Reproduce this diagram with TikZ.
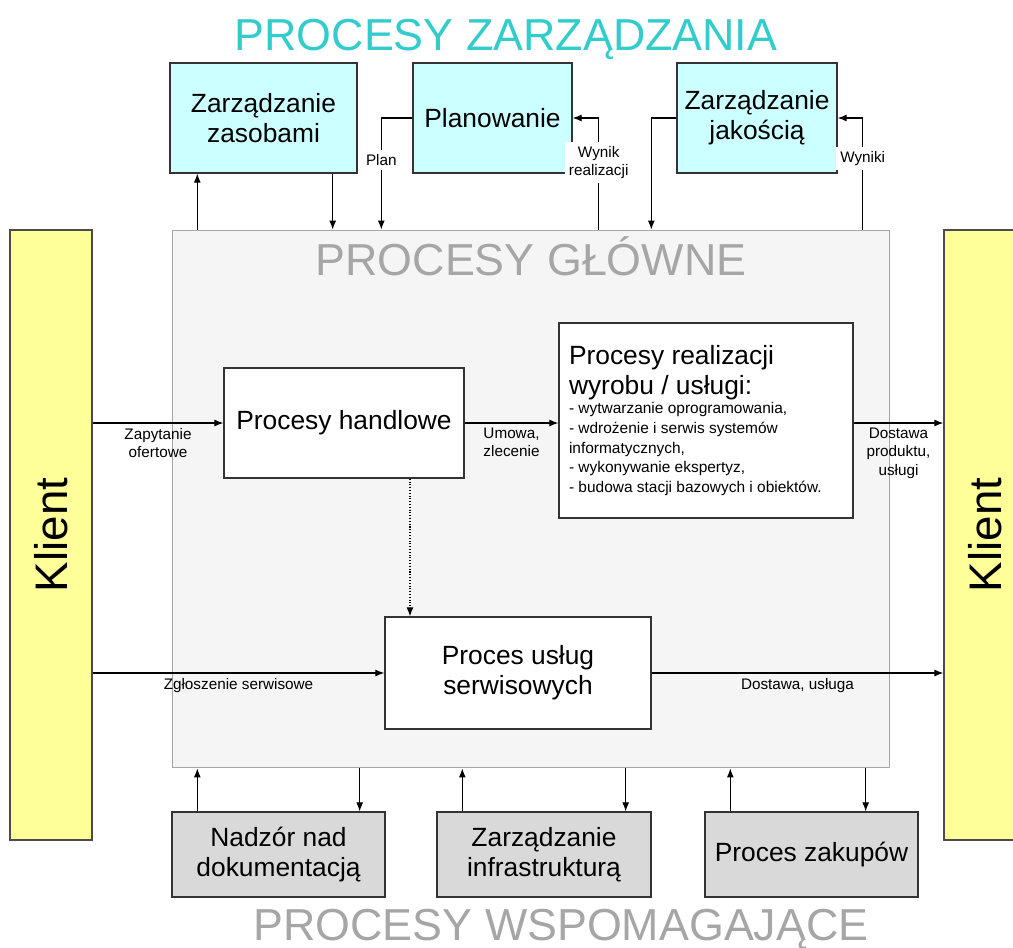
\documentclass[tikz,border=0pt]{standalone}
\usepackage{fontspec}
\setmainfont{Liberation Sans}
\usetikzlibrary{positioning, arrows.meta}

\definecolor{zarzcyan}{RGB}{204,255,255}
\definecolor{zarzteal}{RGB}{51,204,204}
\definecolor{klientyellow}{RGB}{255,255,153}
\definecolor{glownegray}{RGB}{245,245,245}
\definecolor{wspgray}{RGB}{217,217,217}
\definecolor{titlegray}{RGB}{166,166,166}

\begin{document}
\begin{tikzpicture}[x=0.02cm, y=-0.02cm,
        proc/.style={draw=black!80, line width=0.8pt, align=center, inner sep=0pt, font=\fontsize{15}{17}\selectfont},
        zarzbox/.style={proc, fill=zarzcyan, minimum height=2.2cm},
        wspbox/.style={proc, fill=wspgray, minimum height=1.7cm},
        mainbox/.style={proc, fill=white},
        klientbox/.style={draw=black!70, line width=0.8pt, fill=klientyellow, minimum width=1.64cm, minimum height=12.2cm},
        klienttext/.style={rotate=90, font=\fontsize{26}{30}\selectfont},
        arr/.style={-{Latex[length=1.8mm, width=1.4mm]}, line width=0.6pt},
        lbl/.style={font=\fontsize{8.7}{10.5}\selectfont, align=center, inner sep=2.5pt},
        bigtitle/.style={font=\fontsize{25.5}{28}\selectfont, anchor=base}]
    \useasboundingbox (0,0) rectangle (1013,947);

    % procesy glowne
    \node [draw=gray!70, line width=0.6pt, fill=glownegray, minimum width=14.36cm, minimum height=10.76cm] (glowne) at (531,499) {};
    \node [bigtitle, text=titlegray] (glowneT) at (531,275) {PROCESY GŁÓWNE};

    \node [klientbox] (klientL) at (51,535) {};
    \node [klienttext] (klientLT) at (klientL.center) {Klient};
    \node [klientbox] (klientR) at (985,535) {};
    \node [klienttext] (klientRT) at (klientR.center) {Klient};

    % procesy zarzadzania
    \node [bigtitle, text=zarzteal] (zarzT) at (506,50) {PROCESY ZARZĄDZANIA};
    \node [zarzbox, minimum width=3.74cm] (zasoby) at (263.5,118) {Zarządzanie\\zasobami};
    \node [zarzbox, minimum width=3.18cm] (planowanie) at (492.5,118) {Planowanie};
    \node [zarzbox, minimum width=3.2cm] (jakosc) at (757,118) {Zarządzanie\\jakością};

    \node [mainbox, minimum width=4.8cm, minimum height=2.2cm] (handlowe) at (344,423) {Procesy handlowe};
    \node [mainbox, minimum width=5.88cm, minimum height=3.9cm, text width=5.48cm, align=left, inner xsep=0.2cm] (realizacja) at (706,420.5) {%
        {\fontsize{15}{17}\selectfont\spaceskip=0pt\xspaceskip=0pt Procesy realizacji\\wyrobu / usługi:\par}%
        {\fontsize{8.8}{11.2}\selectfont\spaceskip=0pt\xspaceskip=0pt - wytwarzanie oprogramowania,\\- wdrożenie i serwis systemów\\informatycznych,\\- wykonywanie ekspertyz,\\- budowa stacji bazowych i obiektów.\par}};
    \node [mainbox, minimum width=5.32cm, minimum height=2.24cm] (serwis) at (518,673) {Proces usług\\serwisowych};

    % procesy wspomagajace
    \node [wspbox, minimum width=4.26cm] (nadzor) at (278.5,854.5) {Nadzór nad\\dokumentacją};
    \node [wspbox, minimum width=4.28cm] (infra) at (544,854.5) {Zarządzanie\\infrastrukturą};
    \node [wspbox, minimum width=4.26cm] (zakupy) at (811.5,854.5) {Proces zakupów};
    \node [bigtitle, text=titlegray] (wspT) at (561,940) {PROCESY WSPOMAGAJĄCE};

    % gora
    \draw [arr] ([xshift=0.56cm]zasoby.south west |- glowne.north) -- ([xshift=0.56cm]zasoby.south west);
    \draw [arr] ([xshift=-0.5cm]zasoby.south east) -- ([xshift=-0.5cm]zasoby.south east |- glowne.north);
    \draw [arr] (planowanie.west) -- ++(-31,0) coordinate (planC) -- (planC |- glowne.north)
        node [pos=0.38, lbl, fill=white] {Plan};
    \draw [arr] ([xshift=0.52cm]planowanie.east |- glowne.north) |- (planowanie.east)
        node [pos=0.3, lbl, fill=white] {Wynik\\realizacji};
    \draw [arr] (jakosc.west) -- ++(-25,0) coordinate (jakC) -- (jakC |- glowne.north);
    \draw [arr] ([xshift=0.5cm]jakosc.east |- glowne.north) |- (jakosc.east)
        node [pos=0.32, lbl, fill=white] {Wyniki};

    % srodek
    \draw [arr] (klientL.east |- handlowe.west) -- (handlowe.west) node [midway, below, lbl] {Zapytanie\\ofertowe};
    \draw [arr] (handlowe.east) -- (realizacja.west |- handlowe.east) node [midway, below, lbl] {Umowa,\\zlecenie};
    \draw [arr] (realizacja.east |- handlowe.east) -- (klientR.west |- handlowe.east) node [midway, below, lbl] {Dostawa\\produktu,\\usługi};
    \draw [arr, densely dotted] ([xshift=1.32cm]handlowe.south) -- ([xshift=1.32cm]handlowe.south |- serwis.north);
    \draw [arr] (klientL.east |- serwis.west) -- (serwis.west) node [midway, below, lbl] {Zgłoszenie serwisowe};
    \draw [arr] (serwis.east) -- (klientR.west |- serwis.east) node [midway, below, lbl] {Dostawa, usługa};

    % dol
    \draw [arr] ([xshift=0.52cm]nadzor.north west) -- ([xshift=0.52cm]nadzor.north west |- glowne.south);
    \draw [arr] ([xshift=-0.52cm]nadzor.north east |- glowne.south) -- ([xshift=-0.52cm]nadzor.north east);
    \draw [arr] ([xshift=0.52cm]infra.north west) -- ([xshift=0.52cm]infra.north west |- glowne.south);
    \draw [arr] ([xshift=-0.52cm]infra.north east |- glowne.south) -- ([xshift=-0.52cm]infra.north east);
    \draw [arr] ([xshift=0.52cm]zakupy.north west) -- ([xshift=0.52cm]zakupy.north west |- glowne.south);
    \draw [arr] ([xshift=-1.06cm]zakupy.north east |- glowne.south) -- ([xshift=-1.06cm]zakupy.north east);
\end{tikzpicture}
\end{document}
